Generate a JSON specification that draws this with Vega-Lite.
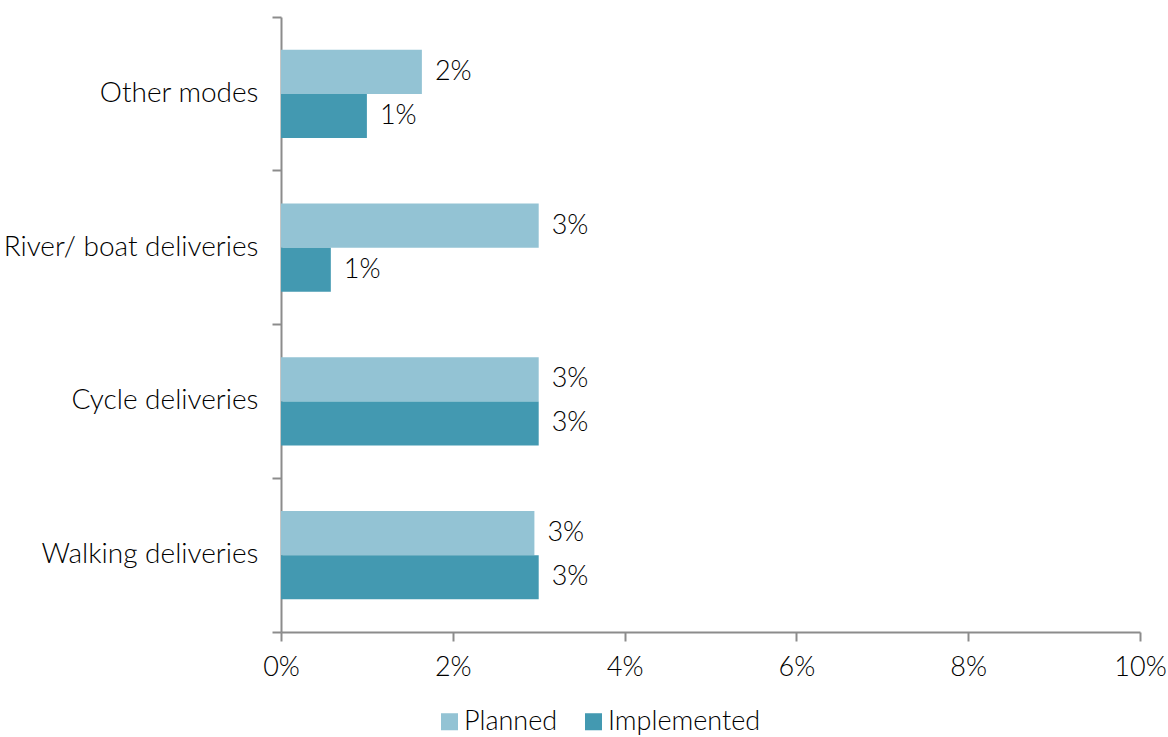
{
  "$schema": "https://vega.github.io/schema/vega-lite/v6.json",
  "width": 859,
  "height": 615,
  "autosize": "none",
  "padding": {"left": 281, "top": 17, "right": 28, "bottom": 105},
  "background": "white",
  "config": {
    "view": {"stroke": null},
    "font": "Lato",
    "axis": {"labelFont": "Lato", "labelFontWeight": 300, "labelColor": "#000000", "domainColor": "#8c8c8c", "tickColor": "#8c8c8c", "domainWidth": 2, "tickWidth": 2, "grid": false, "title": null}
  },
  "data": {
    "values": [
      {"mode": "Other modes", "series": "Planned", "value": 0.0164},
      {"mode": "Other modes", "series": "Implemented", "value": 0.0100},
      {"mode": "River/ boat deliveries", "series": "Planned", "value": 0.0300},
      {"mode": "River/ boat deliveries", "series": "Implemented", "value": 0.0058},
      {"mode": "Cycle deliveries", "series": "Planned", "value": 0.0300},
      {"mode": "Cycle deliveries", "series": "Implemented", "value": 0.0300},
      {"mode": "Walking deliveries", "series": "Planned", "value": 0.0295},
      {"mode": "Walking deliveries", "series": "Implemented", "value": 0.0300}
    ]
  },
  "encoding": {
    "y": {
      "field": "mode", "type": "nominal",
      "sort": ["Other modes", "River/ boat deliveries", "Cycle deliveries", "Walking deliveries"],
      "scale": {"paddingInner": 0, "paddingOuter": 0},
      "axis": {"bandPosition": 1, "tickExtra": true, "tickSize": 9, "labelPadding": 14, "labelFontSize": 28, "labelLimit": 300}
    },
    "yOffset": {"field": "series", "sort": ["Planned", "Implemented"], "scale": {"paddingInner": 0, "paddingOuter": 0.747}},
    "x": {
      "field": "value", "type": "quantitative",
      "scale": {"domain": [0, 0.1]},
      "axis": {"format": ".0%", "values": [0, 0.02, 0.04, 0.06, 0.08, 0.1], "labelFlush": false, "tickSize": 9, "labelPadding": 13, "labelFontSize": 27}
    }
  },
  "layer": [
    {
      "mark": {"type": "bar"},
      "encoding": {
        "color": {
          "field": "series", "type": "nominal",
          "sort": ["Planned", "Implemented"],
          "scale": {"domain": ["Planned", "Implemented"], "range": ["#93c3d4", "#4399b1"]},
          "legend": {
            "title": null, "orient": "none", "direction": "horizontal",
            "legendX": 155, "legendY": 691,
            "symbolType": "square", "symbolSize": 290, "symbolStrokeWidth": 0,
            "labelFontSize": 27, "labelFontWeight": 300, "labelColor": "#000000", "labelFont": "Lato",
            "columnPadding": 22, "labelOffset": 1
          }
        }
      }
    },
    {
      "mark": {"type": "text", "align": "left", "baseline": "middle", "dx": 13, "fontSize": 27, "fontWeight": 300, "color": "#000000"},
      "encoding": {
        "text": {"field": "value", "type": "quantitative", "format": ".0%"}
      }
    }
  ]
}
